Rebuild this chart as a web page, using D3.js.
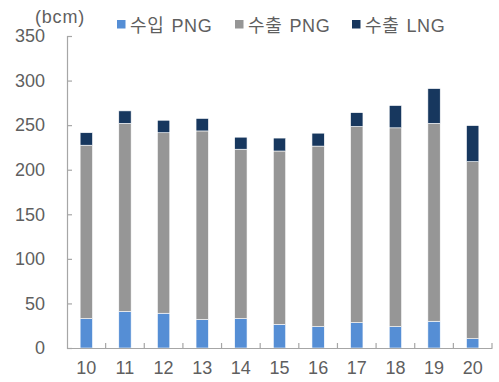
<!DOCTYPE html>
<html>
<head>
<meta charset="utf-8">
<script src="https://cdn.jsdelivr.net/npm/d3@7"></script>
<style>
  html, body { margin: 0; padding: 0; background: #fff; }
  svg text { font-family: "Liberation Sans", Arial, "Noto Sans CJK KR", sans-serif; fill: #5f5f5f; }
</style>
</head>
<body>
<svg id="chart" width="499" height="382"></svg>
<script>
// Gas trade volumes by year (bcm)
const years = ["10", "11", "12", "13", "14", "15", "16", "17", "18", "19", "20"];
const importPNG = [33, 41, 39, 32, 33, 26.5, 24, 28.5, 24, 30, 10.5];
const exportPNG = [194.5, 211, 202.5, 211.5, 190, 194.5, 202.5, 220, 223, 222, 198.5];
const exportLNG = [14, 14, 14, 14, 13.5, 14.5, 14.5, 15.5, 25, 39, 40.5];
const seriesNames = ["수입 PNG", "수출 PNG", "수출 LNG"];
const seriesColors = ["#558ED5", "#969696", "#17375E"];
const yTicks = [0, 50, 100, 150, 200, 250, 300, 350];

const rows = years.map((y, i) => ({
  year: y,
  "수입 PNG": importPNG[i],
  "수출 PNG": exportPNG[i],
  "수출 LNG": exportLNG[i]
}));

const svg = d3.select("#chart");
const margin = { left: 67, right: 7, top: 36, bottom: 34 };
const W = 499, H = 382;

const x = d3.scaleBand()
  .domain(years)
  .range([margin.left, W - margin.right])
  .paddingInner(0.68)
  .paddingOuter(0.34);

const y = d3.scaleLinear()
  .domain([0, 350])
  .range([H - margin.bottom, margin.top]);

const stack = d3.stack().keys(seriesNames)(rows);

// stacked bars
svg.append("g")
  .selectAll("g")
  .data(stack)
  .join("g")
  .attr("fill", (d, i) => seriesColors[i])
  .selectAll("rect")
  .data(d => d)
  .join("rect")
  .attr("x", d => x(d.data.year))
  .attr("width", x.bandwidth())
  .attr("y", d => y(d[1]))
  .attr("height", d => y(d[0]) - y(d[1]))
  .attr("stroke", "#ffffff")
  .attr("stroke-width", 0.6);

const axisColor = "#a6a6a6";

// y axis with inward ticks
const yAxis = svg.append("g")
  .attr("transform", `translate(${margin.left},0)`)
  .call(d3.axisLeft(y).tickValues(yTicks).tickSize(-5).tickPadding(22));
yAxis.select(".domain").attr("stroke", axisColor).attr("stroke-width", 1.2);
yAxis.selectAll(".tick line").attr("stroke", axisColor).attr("stroke-width", 1.2);
yAxis.selectAll(".tick text").attr("font-size", 18).style("fill", "#5f5f5f");

// x axis with inward ticks at band boundaries
const xAxis = svg.append("g")
  .attr("transform", `translate(0,${H - margin.bottom})`)
  .call(d3.axisBottom(x).tickSize(0).tickPadding(13));
xAxis.select(".domain").attr("stroke", axisColor).attr("stroke-width", 1.2);
xAxis.selectAll(".tick text").attr("font-size", 18).style("fill", "#5f5f5f");

const step = x.step();
const boundaries = d3.range(1, years.length + 1).map(i => margin.left + i * step);
svg.append("g")
  .selectAll("line")
  .data(boundaries)
  .join("line")
  .attr("x1", d => d).attr("x2", d => d)
  .attr("y1", H - margin.bottom).attr("y2", H - margin.bottom - 5)
  .attr("stroke", axisColor).attr("stroke-width", 1.2);

// unit label
svg.append("text")
  .attr("x", 35).attr("y", 23)
  .attr("font-size", 18)
  .attr("letter-spacing", 0.8)
  .text("(bcm)");

// legend
const legendX = [117, 235, 352];
const legend = svg.append("g")
  .selectAll("g")
  .data(seriesNames)
  .join("g")
  .attr("transform", (d, i) => `translate(${legendX[i]},20)`);
legend.append("rect")
  .attr("width", 8.5).attr("height", 8.5)
  .attr("fill", (d, i) => seriesColors[i]);
legend.append("text")
  .attr("x", 13).attr("y", 12)
  .attr("font-size", 18)
  .attr("letter-spacing", 0.6)
  .attr("word-spacing", 1.5)
  .text(d => d);
</script>
</body>
</html>
